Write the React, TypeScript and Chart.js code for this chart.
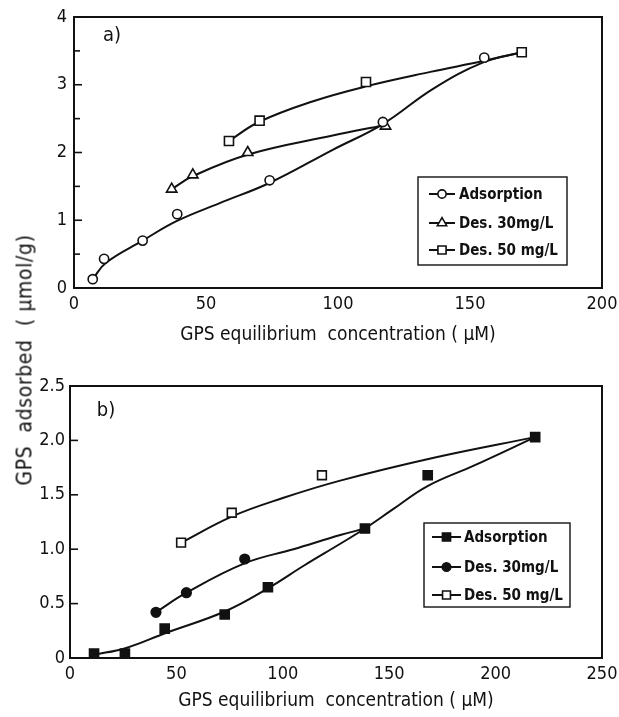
import React, { useEffect, useRef } from "react";
import { Chart, registerables } from "chart.js";
import { drawPoint } from "chart.js/helpers";
Chart.register(...registerables);

// ---------- Panel a) data ----------
const aAdsX = [7.1, 11.4, 26, 39.1, 74.1, 117, 155.4];
const aAdsY = [0.13, 0.43, 0.7, 1.09, 1.59, 2.45, 3.4];
const aD30X = [37, 45, 65.8, 118];
const aD30Y = [1.46, 1.67, 2.0, 2.39];
const aD50X = [58.7, 70.3, 110.6, 169.6];
const aD50Y = [2.17, 2.47, 3.04, 3.48];
// curves drawn through the points in panel a)
const aAdsFitX = [7.1, 12, 26, 39, 55, 74, 98, 117, 136, 155, 169.6];
const aAdsFitY = [0.13, 0.37, 0.7, 0.99, 1.25, 1.55, 2.04, 2.42, 2.94, 3.33, 3.48];
const aD30FitX = [37, 45, 66, 98, 117];
const aD30FitY = [1.46, 1.65, 1.97, 2.25, 2.4];
const aD50FitX = [58.7, 70, 90, 111, 135, 155, 169.6];
const aD50FitY = [2.17, 2.45, 2.75, 2.98, 3.19, 3.35, 3.48];
const aXTicks = [0, 50, 100, 150, 200];
const aYTicks = [0, 1, 2, 3, 4];

// ---------- Panel b) data ----------
const bAdsX = [11.3, 25.8, 44.5, 72.7, 93, 138.6, 168.1, 218.6];
const bAdsY = [0.04, 0.04, 0.27, 0.4, 0.65, 1.19, 1.68, 2.03];
const bD30X = [40.4, 54.7, 82.1];
const bD30Y = [0.42, 0.6, 0.91];
const bD50X = [52.2, 76, 118.4];
const bD50Y = [1.06, 1.335, 1.68];
// curves drawn through the points in panel b)
const bAdsFitX = [11.3, 26, 45, 73, 93, 110, 127, 138.6, 152, 168, 190, 218.6];
const bAdsFitY = [0.03, 0.09, 0.23, 0.43, 0.64, 0.85, 1.05, 1.19, 1.37, 1.58, 1.77, 2.03];
const bD30FitX = [40.4, 54.7, 82, 105, 127, 138.6];
const bD30FitY = [0.42, 0.6, 0.87, 1.0, 1.13, 1.19];
const bD50FitX = [52.2, 76, 100, 127, 171, 218.6];
const bD50FitY = [1.06, 1.3, 1.47, 1.63, 1.84, 2.03];
const bXTicks = [0, 50, 100, 150, 200, 250];
const bYTicks = [0, 0.5, 1.0, 1.5, 2.0, 2.5];

const aLabels = ["Adsorption", "Des. 30mg/L", "Des. 50 mg/L"];
const bLabels = ["Adsorption", "Des. 30mg/L", "Des. 50 mg/L"];
const xTitle = "GPS equilibrium  concentration ( \u00b5M)";
const yTitle = "GPS  adsorbed  ( \u00b5mol/g)";

const INK = "#111";
const FONT = '"DejaVu Sans Condensed", "Liberation Sans Narrow", "Arial Narrow", Arial, sans-serif';

const pts = (xs: number[], ys: number[]) => xs.map((x, i) => ({ x, y: ys[i] }));

function markerDs(label: string, xs: number[], ys: number[], style: string, filled: boolean, radius: number) {
  return {
    type: "scatter" as const,
    label,
    data: pts(xs, ys),
    showLine: false,
    pointStyle: style,
    pointRadius: radius,
    pointBorderWidth: 1.6,
    pointBorderColor: INK,
    pointBackgroundColor: filled ? INK : "#fff",
    order: 0,
  };
}
function curveDs(xs: number[], ys: number[]) {
  return {
    type: "line" as const,
    label: "_fit",
    data: pts(xs, ys),
    showLine: true,
    borderColor: INK,
    borderWidth: 2,
    pointRadius: 0,
    tension: 0.4,
    fill: false,
    order: 1,
  };
}

const customPlugin = {
  id: "custom",
  afterDraw(chart: any, _args: any, opts: any) {
    const { ctx, chartArea } = chart;
    const { left, right, top, bottom } = chartArea;
    ctx.save();
    // frame
    ctx.strokeStyle = INK;
    ctx.lineWidth = 2;
    ctx.strokeRect(left, top, right - left, bottom - top);
    // inward y ticks
    const ys = chart.scales.y;
    ctx.lineWidth = 1.6;
    ys.ticks.forEach((t: any) => {
      const py = ys.getPixelForValue(t.value);
      const len = t.label === "" ? 6 : 8;
      ctx.beginPath();
      ctx.moveTo(left, py);
      ctx.lineTo(left + len, py);
      ctx.stroke();
    });
    // panel label
    ctx.fillStyle = INK;
    ctx.font = `20px ${FONT}`;
    ctx.textAlign = "center";
    ctx.textBaseline = "middle";
    ctx.fillText(opts.panel, left + opts.panelDx, top + opts.panelDy);
    // legend box
    const L = opts.legend;
    ctx.lineWidth = 1.4;
    ctx.strokeRect(L.x, L.y, L.w, L.h);
    const markers = chart.data.datasets.filter((d: any) => d.label !== "_fit");
    markers.forEach((d: any, i: number) => {
      const ry = L.y + L.rows[i];
      ctx.strokeStyle = INK;
      ctx.lineWidth = 2;
      ctx.beginPath();
      ctx.moveTo(L.x + L.l0, ry);
      ctx.lineTo(L.x + L.l1, ry);
      ctx.stroke();
      ctx.fillStyle = d.pointBackgroundColor;
      ctx.strokeStyle = INK;
      ctx.lineWidth = 1.6;
      drawPoint(ctx, { pointStyle: d.pointStyle, radius: d.pointRadius * 0.9, borderWidth: 1.6, rotation: 0 }, L.x + (L.l0 + L.l1) / 2, ry);
      ctx.fillStyle = INK;
      ctx.font = `bold 15px ${FONT}`;
      ctx.textAlign = "left";
      ctx.textBaseline = "middle";
      ctx.fillText(d.label, L.x + L.tx, ry + 1);
    });
    ctx.restore();
  },
};

function makeOptions(p: any) {
  return {
    responsive: false,
    animation: false,
    layout: { padding: { top: p.padTop, right: 17, left: 0, bottom: 0 } },
    plugins: {
      legend: { display: false },
      tooltip: { enabled: false },
      custom: p.custom,
    },
    scales: {
      x: {
        type: "linear",
        min: p.xTicks[0],
        max: p.xTicks[p.xTicks.length - 1],
        afterFit: (s: any) => { s.height = p.xH; s.paddingLeft = 0; s.paddingRight = 0; },
        afterBuildTicks: (s: any) => { s.ticks = p.xTicks.map((v: number) => ({ value: v })); },
        grid: { display: false, drawTicks: false },
        border: { display: false },
        ticks: { color: INK, font: { family: FONT, size: 18 }, padding: p.xPad, maxRotation: 0 },
        title: { display: true, text: xTitle, color: INK, font: { family: FONT, size: 19, lineHeight: 1 }, padding: { top: 0, bottom: p.tPad } },
      },
      y: {
        type: "linear",
        min: p.yTicks[0],
        max: p.yTicks[p.yTicks.length - 1],
        afterFit: (s: any) => { s.width = p.yW; s.paddingTop = 0; s.paddingBottom = 0; },
        afterBuildTicks: (s: any) => { s.ticks = p.yAll.map((v: number) => ({ value: v })); },
        grid: { display: false, drawTicks: false },
        border: { display: false },
        ticks: {
          color: INK,
          font: { family: FONT, size: 18 },
          padding: p.yPad,
          callback: (v: number) => (p.yTicks.includes(v) ? p.yFmt(v) : ""),
        },
      },
    },
  };
}

export default function App() {
  const topRef = useRef<HTMLCanvasElement>(null);
  const botRef = useRef<HTMLCanvasElement>(null);

  useEffect(() => {
    const a = new Chart(topRef.current as HTMLCanvasElement, {
      type: "scatter",
      data: {
        datasets: [
          markerDs(aLabels[0], aAdsX, aAdsY, "circle", false, 4.6),
          markerDs(aLabels[1], aD30X, aD30Y, "triangle", false, 6),
          markerDs(aLabels[2], aD50X, aD50Y, "rect", false, 6.4),
          curveDs(aAdsFitX, aAdsFitY),
          curveDs(aD30FitX, aD30FitY),
          curveDs(aD50FitX, aD50FitY),
        ] as any,
      },
      options: makeOptions({
        padTop: 17, xH: 64, yW: 74, xPad: 6, tPad: 7, yPad: 7,
        xTicks: aXTicks, yTicks: aYTicks,
        yAll: [0, 0.5, 1, 1.5, 2, 2.5, 3, 3.5, 4],
        yFmt: (v: number) => String(v),
        custom: {
          panel: "a)", panelDx: 38, panelDy: 19,
          legend: { x: 418, y: 177, w: 149, h: 88, rows: [17, 46, 73], l0: 11, l1: 37, tx: 41 },
        },
      }) as any,
      plugins: [customPlugin],
    });
    const b = new Chart(botRef.current as HTMLCanvasElement, {
      type: "scatter",
      data: {
        datasets: [
          markerDs(bLabels[0], bAdsX, bAdsY, "rect", true, 6.4),
          markerDs(bLabels[1], bD30X, bD30Y, "circle", true, 4.8),
          markerDs(bLabels[2], bD50X, bD50Y, "rect", false, 6.2),
          curveDs(bAdsFitX, bAdsFitY),
          curveDs(bD30FitX, bD30FitY),
          curveDs(bD50FitX, bD50FitY),
        ] as any,
      },
      options: makeOptions({
        padTop: 34, xH: 59, yW: 70, xPad: 6, tPad: 6, yPad: 5,
        xTicks: bXTicks, yTicks: bYTicks,
        yAll: bYTicks,
        yFmt: (v: number) => (v === 0 ? "0" : v.toFixed(1)),
        custom: {
          panel: "b)", panelDx: 36, panelDy: 25,
          legend: { x: 424, y: 171, w: 146, h: 84, rows: [14, 44, 72], l0: 8, l1: 37, tx: 40 },
        },
      }) as any,
      plugins: [customPlugin],
    });
    return () => { a.destroy(); b.destroy(); };
  }, []);

  return (
    <div style={{ position: "absolute", left: 0, top: 0, width: 619, height: 717, background: "#fff" }}>
      <canvas ref={topRef} width={619} height={352} style={{ position: "absolute", left: 0, top: 0, display: "block" }} />
      <canvas ref={botRef} width={619} height={365} style={{ position: "absolute", left: 0, top: 352, display: "block" }} />
      <div
        style={{
          position: "absolute",
          left: 25,
          top: 360,
          transform: "translate(-50%, -50%) rotate(-90deg)",
          whiteSpace: "pre",
          fontFamily: FONT,
          fontSize: 21,
          letterSpacing: "0.6px",
          color: INK,
          lineHeight: 1,
        }}
      >
        {yTitle}
      </div>
    </div>
  );
}
